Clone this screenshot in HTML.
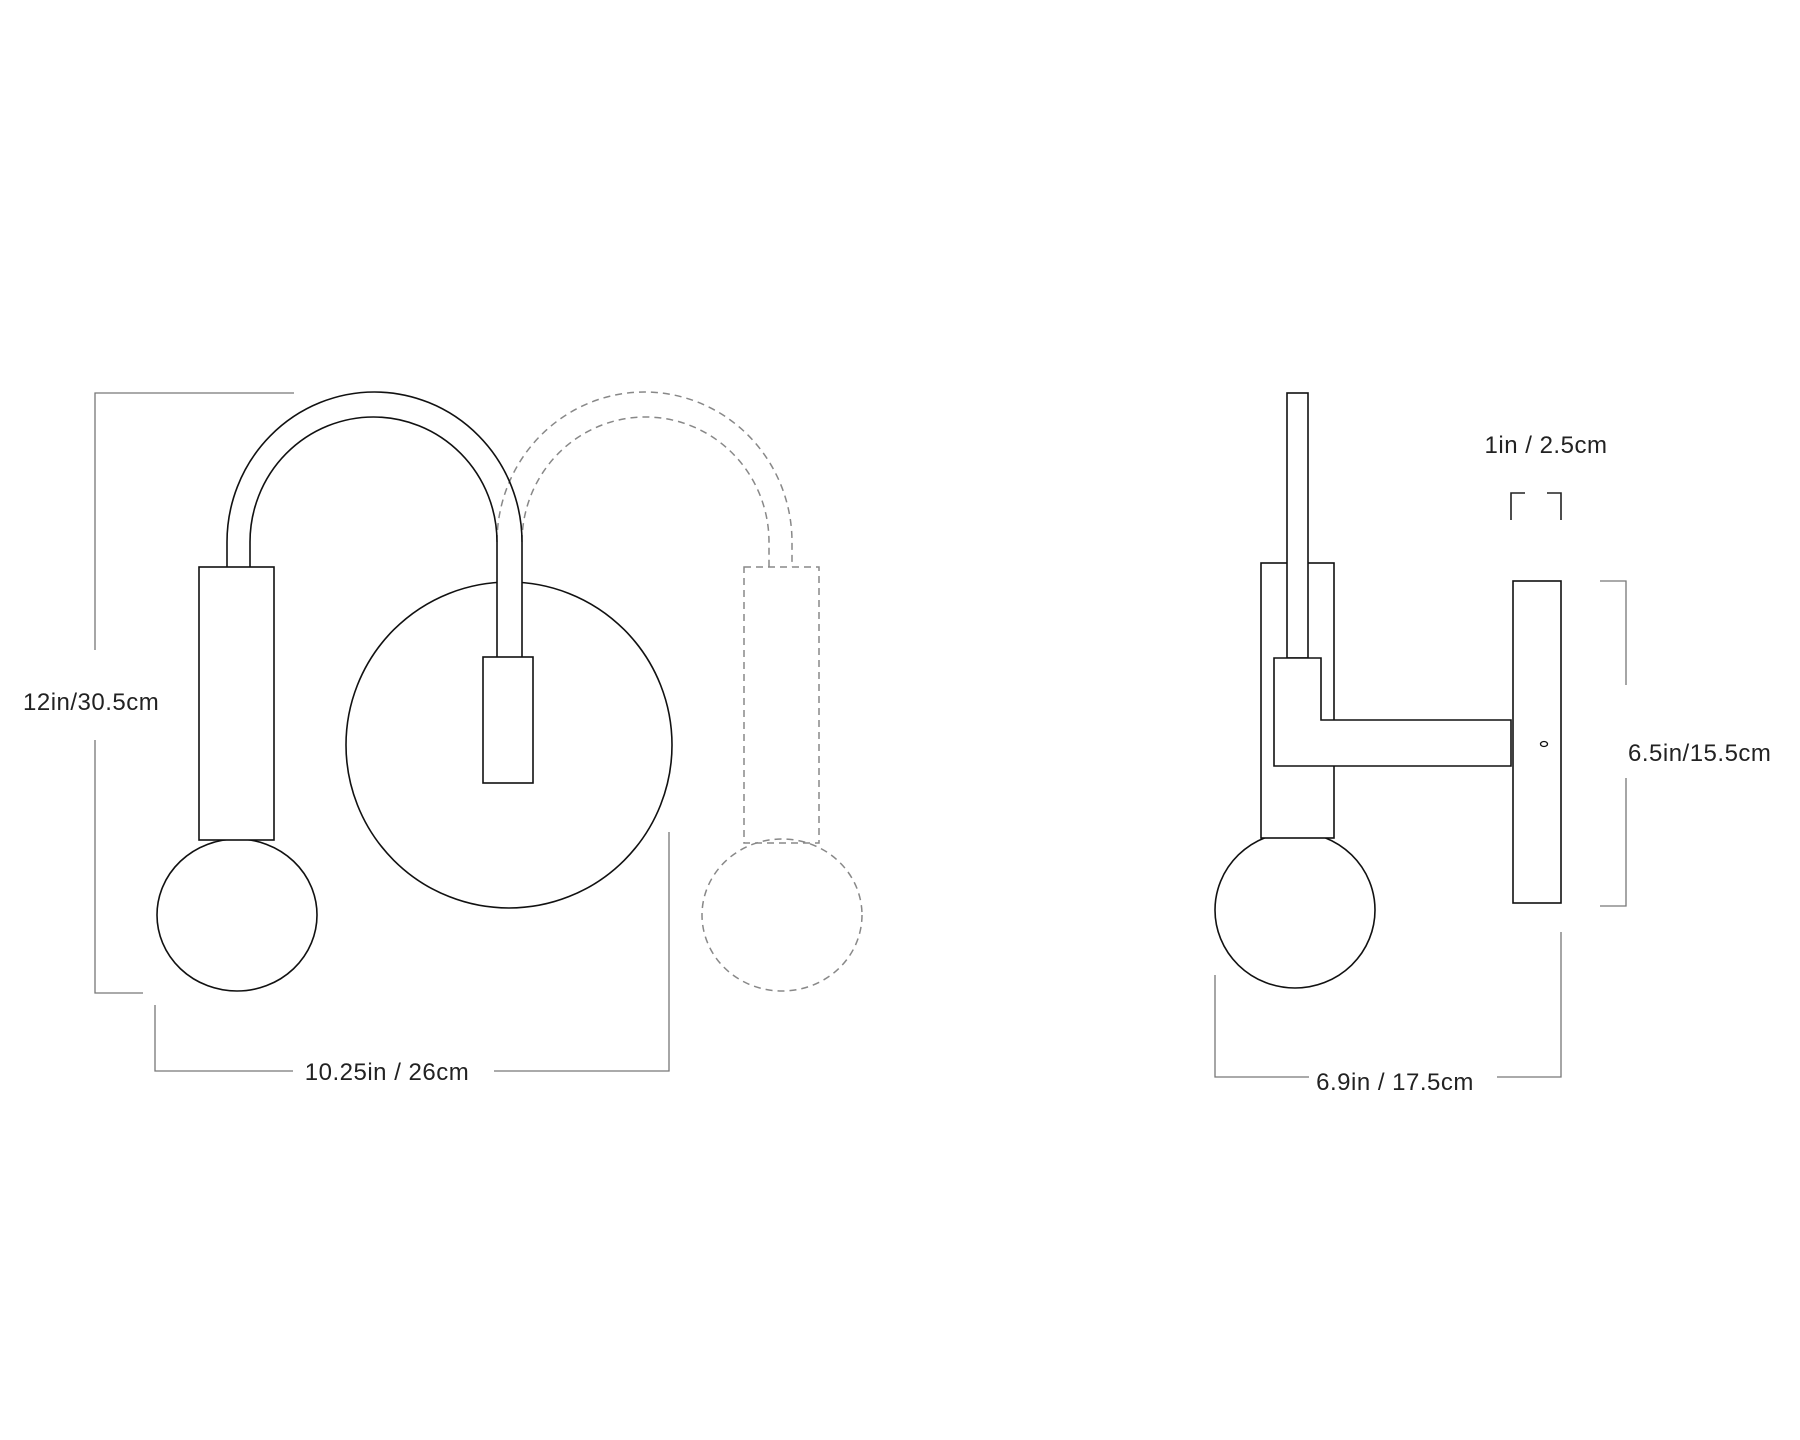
<!DOCTYPE html>
<html><head><style>
html,body{margin:0;padding:0;background:#fff;}
svg{display:block;}
text{font-family:"Liberation Sans",sans-serif;font-size:24px;fill:#222;letter-spacing:0.5px;}
</style></head><body>
<svg width="1800" height="1440" viewBox="0 0 1800 1440" xmlns="http://www.w3.org/2000/svg">
<g fill="none" stroke="#777" stroke-width="1.3">
<polyline points="294,393 95,393 95,650"/>
<polyline points="95,740 95,993 143,993"/>
<polyline points="155,1005 155,1071 293,1071"/>
<polyline points="494,1071 669,1071 669,832"/>
<polyline points="1215,975 1215,1077 1309,1077"/>
<polyline points="1497,1077 1561,1077 1561,932"/>
<polyline points="1600,581 1626,581 1626,685"/>
<polyline points="1626,778 1626,906 1600,906"/>
</g>
<g fill="none" stroke="#222" stroke-width="1.6">
<polyline points="1511,520 1511,493 1525,493"/>
<polyline points="1547,493 1561,493 1561,520"/>
</g>
<text x="23" y="710">12in/30.5cm</text>
<text x="387" y="1080" text-anchor="middle">10.25in / 26cm</text>
<text x="1546" y="453" text-anchor="middle">1in / 2.5cm</text>
<text x="1628" y="761">6.5in/15.5cm</text>
<text x="1395" y="1090" text-anchor="middle">6.9in / 17.5cm</text>

<g fill="none" stroke="#888" stroke-width="1.5" stroke-dasharray="7,5">
<path d="M497,542 A147.5,150 0 0 1 792,542 L792,567"/>
<path d="M522,542 A123.5,125 0 0 1 769,542 L769,567"/>
<rect x="744" y="567" width="75" height="276"/>
<ellipse cx="782" cy="915" rx="80" ry="76"/>
</g>

<g fill="#fff" stroke="#111" stroke-width="1.6">
<circle cx="509" cy="745" r="163"/>
<rect x="497" y="560" width="25" height="97" stroke="none"/>
<path fill="none" d="M227,567 L227,542 A147.5,150 0 0 1 522,542 L522,657"/>
<path fill="none" d="M250,567 L250,542 A123.5,125 0 0 1 497,542 L497,657"/>
<rect x="483" y="657" width="50" height="126"/>
<ellipse cx="237" cy="915" rx="80" ry="76"/>
<rect x="199" y="567" width="75" height="273"/>
</g>

<g fill="#fff" stroke="#111" stroke-width="1.6">
<ellipse cx="1295" cy="910" rx="80" ry="78"/>
<rect x="1261" y="563" width="73" height="275"/>
<rect x="1287" y="393" width="21" height="265"/>
<path d="M1274,658 L1321,658 L1321,720 L1511,720 L1511,766 L1274,766 Z"/>
<rect x="1513" y="581" width="48" height="322"/>
<ellipse cx="1544" cy="744" rx="3.5" ry="2.5" stroke-width="1.3"/>
</g>
</svg>
</body></html>
